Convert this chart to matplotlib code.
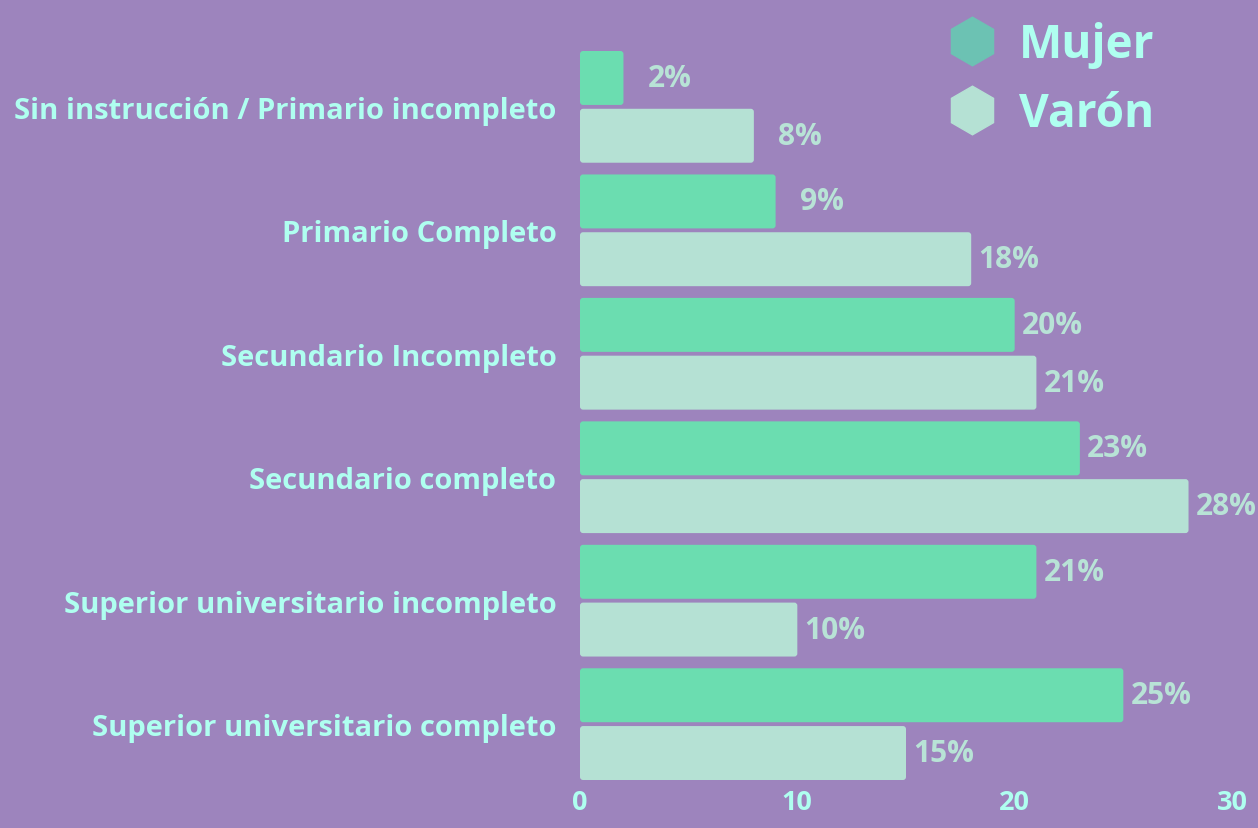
import matplotlib
matplotlib.use("Agg")
import matplotlib.pyplot as plt
from matplotlib.patches import FancyBboxPatch
from matplotlib.lines import Line2D

categories = ["Sin instrucción / Primario incompleto", "Primario Completo",
              "Secundario Incompleto", "Secundario completo",
              "Superior universitario incompleto", "Superior universitario completo"]
mujer = [2, 9, 20, 23, 21, 25]
varon = [8, 18, 21, 28, 10, 15]
series_names = ["Mujer", "Varón"]
xticks = [0, 10, 20, 30]

BG = "#9d84bd"
C_MUJER = "#6bddb0"
C_VARON = "#b5e1d4"
C_LEG_MUJER = "#6cc2b3"
TXT = "#affff0"
VAL = "#b8e3d6"

plt.rcParams['font.family'] = ['Open Sans', 'DejaVu Sans']

W, H = 1258, 829
fig = plt.figure(figsize=(W / 100, H / 100), dpi=100, facecolor=BG)
left_px, right_px = 580, 1232
top_px, bot_px = 52, 781
ax = fig.add_axes([left_px / W, (H - bot_px) / H, (right_px - left_px) / W, (bot_px - top_px) / H])
ax.set_facecolor(BG)

bh = 0.437
off = 0.234
n = len(categories)
ys = list(range(n))
b1 = ax.barh([y - off for y in ys], mujer, height=bh, color=C_MUJER)
b2 = ax.barh([y + off for y in ys], varon, height=bh, color=C_VARON)

ax.set_xlim(0, 30)
ax.set_ylim(n - 1 + off + bh / 2, -off - bh / 2)

# rounded bars
xpx = (right_px - left_px) / 30
ypx = (bot_px - top_px) / (n - 1 + 2 * off + bh)
for bars, col in ((b1, C_MUJER), (b2, C_VARON)):
    for r in bars:
        x, y = r.get_x(), r.get_y()
        w, h = r.get_width(), r.get_height()
        p = FancyBboxPatch((x, y), w, h, boxstyle="round,pad=0,rounding_size=0.14",
                           mutation_aspect=xpx / ypx, facecolor=col, edgecolor='none')
        ax.add_patch(p)
        r.set_visible(False)

for bars, vals in ((b1, mujer), (b2, varon)):
    for r, v in zip(bars, vals):
        ax.annotate(f"{v}%", (v, r.get_y() + r.get_height() / 2), xytext=(49, 0),
                    textcoords='offset points', ha='right', va='center',
                    color=VAL, fontsize=21.5, fontweight='bold', annotation_clip=False)

ax.set_yticks(ys)
ax.set_yticklabels(categories, color=TXT, fontsize=21, fontweight='bold')
ax.set_xticks(xticks)
ax.set_xticklabels([str(t) for t in xticks], color=TXT, fontsize=19.5, fontweight='bold')
ax.tick_params(axis='y', length=0, pad=17)
ax.tick_params(axis='x', length=0, pad=6.5)
for s in ax.spines.values():
    s.set_visible(False)

fs = 33
handles = [Line2D([], [], marker='h', linestyle='none', markersize=35, color=C_LEG_MUJER),
           Line2D([], [], marker='h', linestyle='none', markersize=35, color=C_VARON)]
leg = fig.legend(handles, series_names, loc='upper left', bbox_to_anchor=(949 / W, 1 - 22 / H),
                 frameon=False, prop={'family': 'Open Sans', 'weight': 'bold', 'size': fs},
                 labelspacing=0.48, handlelength=1.0, handletextpad=0.52, borderpad=0,
                 borderaxespad=0)
for t in leg.get_texts():
    t.set_color(TXT)

fig.savefig("out.png", dpi=100, facecolor=BG)
